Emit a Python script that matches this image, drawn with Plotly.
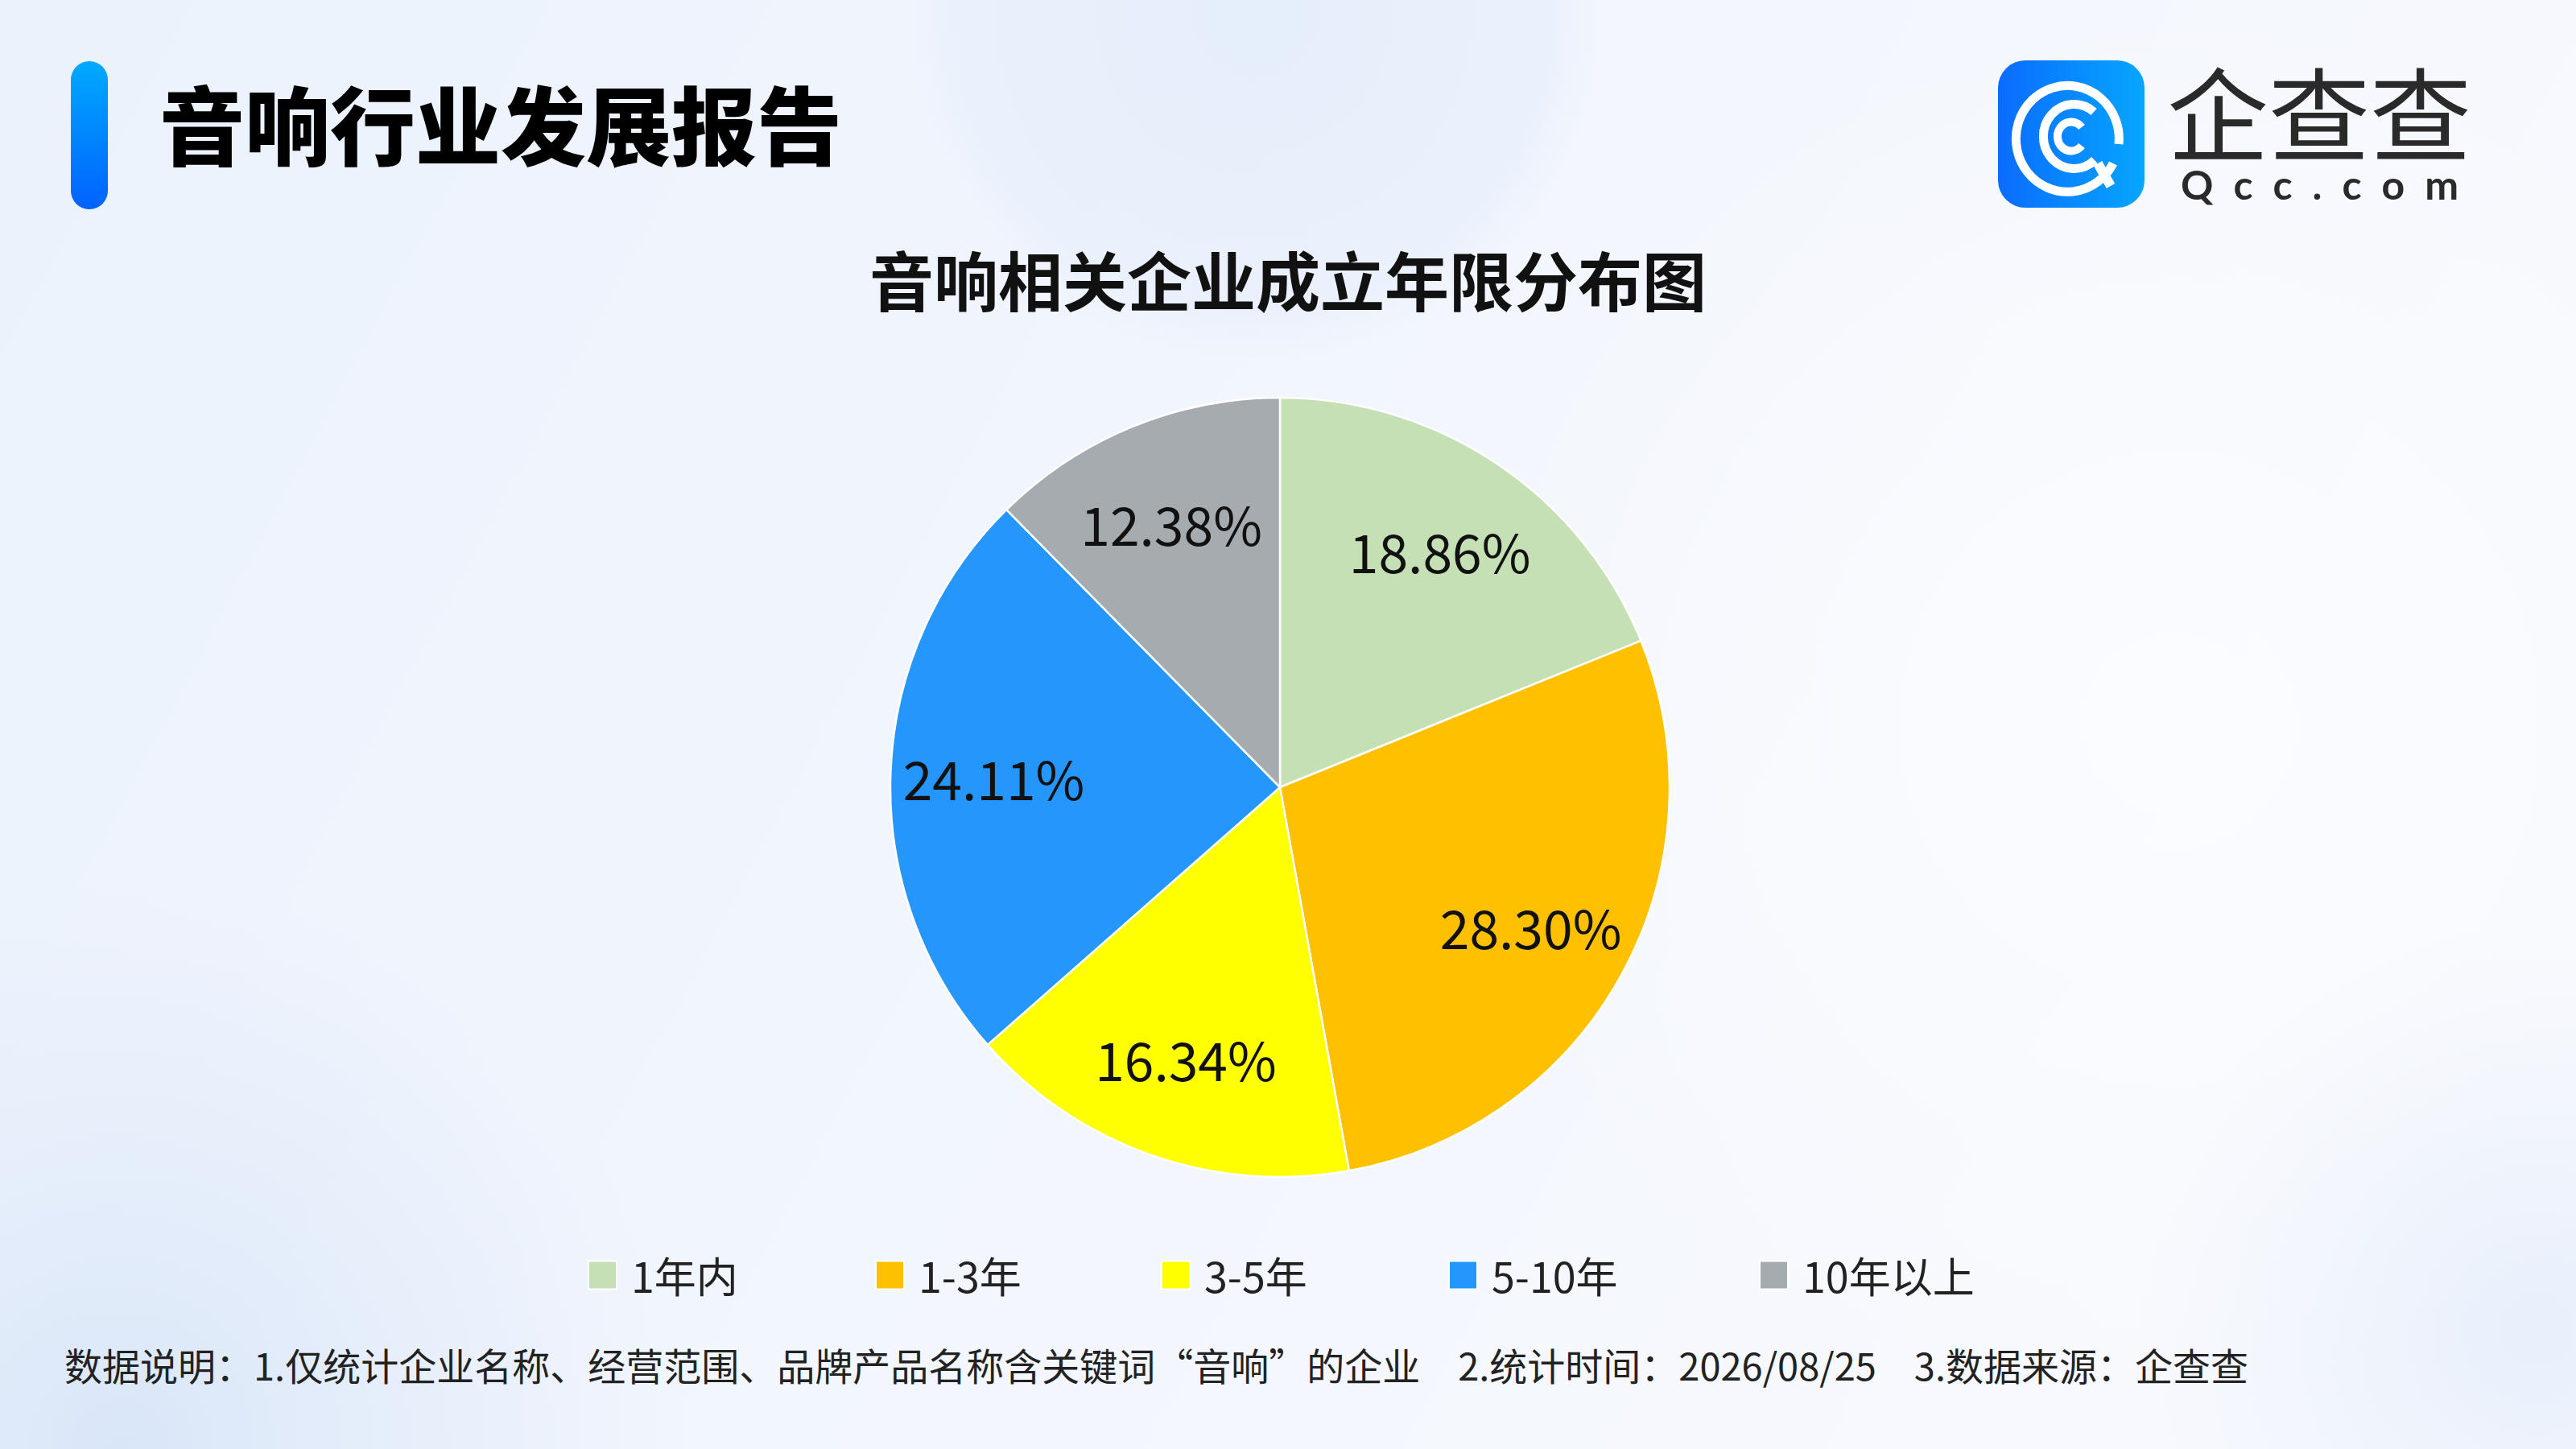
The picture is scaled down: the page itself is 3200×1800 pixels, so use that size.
import base64
import plotly.graph_objects as go

# ---------------- data ----------------
categories = ["1年内", "1-3年", "3-5年", "5-10年", "10年以上"]
shares = [18.86, 28.30, 16.34, 24.11, 12.38]
colors = ["#c5e0b4", "#ffc000", "#ffff00", "#2596fb", "#a6abaf"]

main_title = "音响行业发展报告"
chart_title = "音响相关企业成立年限分布图"
brand_cn = "企查查"
brand_en = "Qcc.com"
footnote = ("数据说明：1.仅统计企业名称、经营范围、品牌产品名称含关键词“音响”的企业"
            "\u2002\u20022.统计时间：2026/08/25\u2002\u20023.数据来源：企查查")

# ---------------- layout constants ----------------
W, H = 3200, 1800
FONT = "Noto Sans CJK SC"


def px(x):
    return x / W


def py(y):
    return 1 - y / H


def svg_uri(svg):
    return "data:image/svg+xml;base64," + base64.b64encode(svg.encode("utf-8")).decode()


bg_svg = f"""<svg xmlns='http://www.w3.org/2000/svg' width='{W}' height='{H}' viewBox='0 0 {W} {H}'>
<defs>
<linearGradient id='g' x1='0' y1='0' x2='1' y2='0.3'>
<stop offset='0' stop-color='#ebf2fc'/><stop offset='0.55' stop-color='#f2f6fd'/><stop offset='1' stop-color='#f7f9fe'/>
</linearGradient>
<radialGradient id='r1' cx='0.5' cy='0.5' r='0.5'>
<stop offset='0' stop-color='#e4edfb' stop-opacity='0.9'/><stop offset='0.85' stop-color='#e6eefb' stop-opacity='0.6'/><stop offset='1' stop-color='#e6eefb' stop-opacity='0'/>
</radialGradient>
<radialGradient id='r2' cx='0.5' cy='0.5' r='0.5'>
<stop offset='0' stop-color='#d9e6f8' stop-opacity='1'/><stop offset='1' stop-color='#dfe9f9' stop-opacity='0'/>
</radialGradient>
<radialGradient id='r3' cx='0.5' cy='0.5' r='0.5'>
<stop offset='0' stop-color='#fbfcff' stop-opacity='1'/><stop offset='1' stop-color='#fbfcff' stop-opacity='0'/>
</radialGradient>
</defs>
<rect width='{W}' height='{H}' fill='url(#g)'/>
<circle cx='2700' cy='900' r='900' fill='url(#r3)'/>
<circle cx='1560' cy='20' r='430' fill='url(#r1)'/>
<circle cx='150' cy='1800' r='700' fill='url(#r2)'/>
<circle cx='3150' cy='1650' r='500' fill='url(#r2)' opacity='0.5'/>
</svg>"""

bar_svg = """<svg xmlns='http://www.w3.org/2000/svg' width='46' height='184' viewBox='0 0 46 184'>
<defs><linearGradient id='b' x1='0' y1='0' x2='0' y2='1'>
<stop offset='0' stop-color='#00aaff'/><stop offset='1' stop-color='#0062ff'/></linearGradient></defs>
<rect x='0' y='0' width='46' height='184' rx='23' ry='23' fill='url(#b)'/>
</svg>"""

logo_svg = """<svg xmlns='http://www.w3.org/2000/svg' width='182' height='183' viewBox='0 0 182 183'>
<defs><linearGradient id='l' x1='0' y1='0' x2='1' y2='0'>
<stop offset='0' stop-color='#0a6cff'/><stop offset='1' stop-color='#06a6ff'/></linearGradient></defs>
<rect x='0' y='0' width='182' height='183' rx='34' ry='34' fill='url(#l)'/>
<g fill='none' stroke='#ffffff' stroke-linecap='butt'>
<path d='M 143 128 A 64 66 0 1 1 150 104' stroke-width='11'/>
<path d='M 119 64 A 38 40 0 1 0 120 124' stroke-width='11'/>
<path d='M 104 83 A 17 18 0 1 0 104 106' stroke-width='10'/>
<line x1='124' y1='128' x2='140' y2='156' stroke-width='12'/>
</g>
</svg>"""

images = [
    dict(source=svg_uri(bg_svg), xref="paper", yref="paper", x=0, y=1, sizex=1, sizey=1,
         sizing="stretch", layer="below", xanchor="left", yanchor="top"),
    dict(source=svg_uri(bar_svg), xref="paper", yref="paper", x=px(88), y=py(76),
         sizex=px(46), sizey=184 / H, sizing="stretch", layer="above", xanchor="left", yanchor="top"),
    dict(source=svg_uri(logo_svg), xref="paper", yref="paper", x=px(2482), y=py(75),
         sizex=px(182), sizey=183 / H, sizing="stretch", layer="above", xanchor="left", yanchor="top"),
]

pie_domain = dict(x=[px(1106), px(2074)], y=[py(1462), py(494)])

fig = go.Figure()
# the pie itself
fig.add_trace(go.Pie(
    labels=categories,
    values=shares,
    sort=False,
    direction="clockwise",
    rotation=0,
    marker=dict(colors=colors, line=dict(color="#ffffff", width=2.5)),
    textinfo="none",
    hoverinfo="label+value",
    showlegend=False,
    domain=pie_domain,
))
# transparent ring carrying the value labels (places them at ~3/4 of the radius)
fig.add_trace(go.Pie(
    labels=categories,
    values=shares,
    sort=False,
    direction="clockwise",
    rotation=0,
    hole=0.47,
    marker=dict(colors=["rgba(0,0,0,0)"] * len(categories), line=dict(width=0)),
    texttemplate="%{value:.2f}%",
    textposition="inside",
    insidetextorientation="horizontal",
    textfont=dict(family=FONT, size=66, color="#111111"),
    hoverinfo="skip",
    showlegend=False,
    domain=pie_domain,
))

spacer = "\u2002"

annotations = [
    dict(text=main_title, x=px(196), y=py(151), xanchor="left", yanchor="middle",
         font=dict(family=FONT, size=106, color="#000000", weight=900)),
    dict(text=chart_title, x=px(1600), y=py(345), xanchor="center", yanchor="middle",
         font=dict(family=FONT, size=80, color="#111111", weight="bold")),
    dict(text=brand_cn, x=px(2881), y=py(136), xanchor="center", yanchor="middle",
         height=128, valign="middle",
         font=dict(family=FONT, size=126, color="#2a2a2a")),
    dict(text=spacer.join(brand_en), x=px(2881), y=py(229), xanchor="center", yanchor="middle",
         height=56, valign="middle",
         font=dict(family="Lato", size=50, color="#2a2a2a", weight="bold")),
    dict(text=footnote, x=px(78), y=py(1694), xanchor="left", yanchor="middle",
         font=dict(family=FONT, size=47, color="#222222")),
]

# legend with large square swatches
legend_x = [731, 1088, 1443, 1800, 2186]
legend_y = 1584
sq = 35
shapes = []
for cat, col, lx in zip(categories, colors, legend_x):
    shapes.append(dict(type="rect", xref="paper", yref="paper",
                       x0=px(lx), x1=px(lx + sq), y0=py(legend_y + sq / 2), y1=py(legend_y - sq / 2),
                       fillcolor=col, line=dict(color="#ffffff", width=2)))
    annotations.append(dict(text=cat, x=px(lx + sq + 16), y=py(legend_y - 1), xanchor="left", yanchor="middle",
                            font=dict(family=FONT, size=52, color="#222222")))

for a in annotations:
    a.update(xref="paper", yref="paper", showarrow=False)

fig.update_layout(
    width=W, height=H,
    margin=dict(l=0, r=0, t=0, b=0),
    paper_bgcolor="#eef4fd",
    plot_bgcolor="rgba(0,0,0,0)",
    images=images,
    annotations=annotations,
    shapes=shapes,
    font=dict(family=FONT),
)

fig.write_html("out.html",
               config={"displayModeBar": False},
               post_script="document.body.style.margin='0';document.body.style.overflow='hidden';")
